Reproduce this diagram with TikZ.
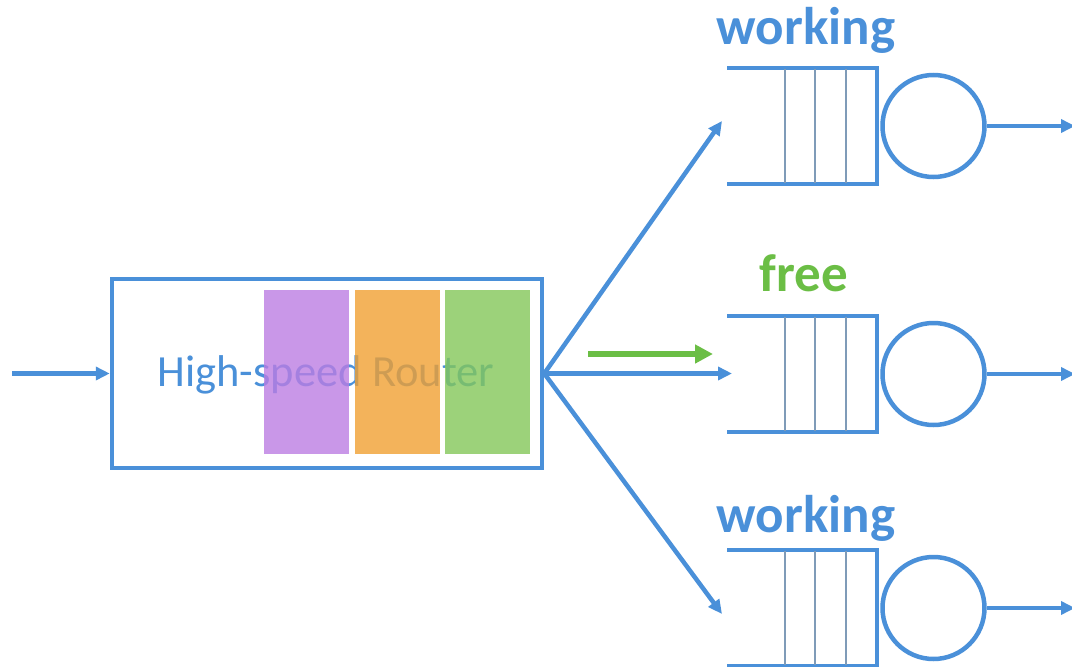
\documentclass[tikz,border=0pt]{standalone}
\usepackage{fontspec}
\setmainfont{Carlito}
\usetikzlibrary{arrows.meta}
\definecolor{qblue}{HTML}{4A90D9}
\definecolor{qgreen}{HTML}{6BBE45}
\definecolor{qthin}{HTML}{7F9BB8}
\definecolor{cpurple}{RGB}{187,125,226}
\definecolor{corange}{RGB}{240,160,50}
\definecolor{cgreen}{RGB}{131,199,89}
\tikzset{
  blueline/.style={draw=qblue, line width=4.5pt},
  bluearrow/.style={blueline, -{Triangle[length=14pt,width=13pt]}},
  greenarrow/.style={draw=qgreen, line width=6pt, -{Triangle[length=18pt,width=18pt]}},
  thinline/.style={draw=qthin, line width=1.3pt},
  server/.style={circle, draw=qblue, line width=4.5pt, minimum size=102pt, inner sep=0pt},
  slot/.style={opacity=0.8, inner sep=0pt, minimum width=85pt, minimum height=164pt},
  state/.style={font=\bfseries\fontsize{53}{62}\selectfont, inner sep=0pt}
}
\begin{document}
\begin{tikzpicture}[x=1pt,y=-1pt]
\useasboundingbox (0,0) rectangle (1072,667);
% router
\node[blueline, minimum width=430pt, minimum height=189pt, inner sep=0pt] (router) at (327,373.5) {};
\node[text=qblue, font=\fontsize{44.5}{52}\selectfont, inner sep=0pt] (rlabel) at (326,375) {High-speed Router};
\node[slot, fill=cpurple] (s1) at (306.5,372) {};
\node[slot, fill=corange] (s2) at (397.5,372) {};
\node[slot, fill=cgreen] (s3) at (487.5,372) {};
% input
\coordinate (in) at (12,373.5);
\draw[bluearrow] (in) -- (router.west);
% queues
\foreach \i/\yc in {1/126, 2/374, 3/608} {
  \coordinate (q\i) at (727,\yc);
  \draw[blueline] (727,\yc-58) -- (877,\yc-58) -- (877,\yc+58) -- (727,\yc+58);
  \foreach \xx in {785,815,846}
    \draw[thinline] (\xx,\yc-57) -- (\xx,\yc+57);
  \node[server] (c\i) at (933.5,\yc) {};
  \coordinate (o\i) at (1075,\yc);
  \draw[bluearrow] (c\i.east) -- (o\i);
}
% fan-out
\coordinate (a1) at (722,121);
\coordinate (a2) at (732,373.5);
\coordinate (a3) at (722,614);
\draw[bluearrow] (router.east) -- (a1);
\draw[bluearrow] (router.east) -- (a2);
\draw[bluearrow] (router.east) -- (a3);
% green arrow
\coordinate (g1) at (588,354);
\coordinate (g2) at (713,354);
\draw[greenarrow] (g1) -- (g2);
% labels
\node[state, text=qblue] (w1) at (806,30) {working};
\node[state, text=qgreen] (f2) at (804,273) {free};
\node[state, text=qblue] (w3) at (806,518) {working};
\end{tikzpicture}
\end{document}
